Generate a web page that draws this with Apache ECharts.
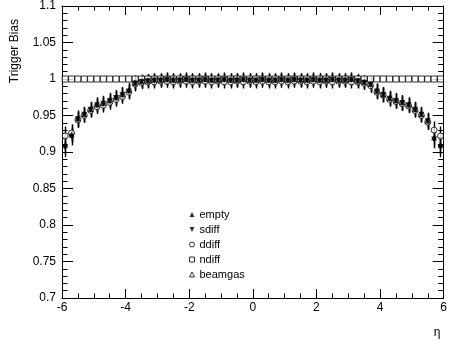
<!DOCTYPE html>
<html>
<head>
<meta charset="utf-8">
<script src="https://cdn.jsdelivr.net/npm/echarts@6/dist/echarts.min.js"></script>
<style>html,body{margin:0;padding:0;background:#fff;}#c{width:450px;height:341px;}</style>
</head>
<body>
<div id="c"></div>
<script>
// eta bin centres
var eta = [-5.9,-5.7,-5.5,-5.3,-5.1,-4.9,-4.7,-4.5,-4.3,-4.1,-3.9,-3.7,-3.5,-3.3,-3.1,-2.9,-2.7,-2.5,-2.3,-2.1,-1.9,-1.7,-1.5,-1.3,-1.1,-0.9,-0.7,-0.5,-0.3,-0.1,
           0.1,0.3,0.5,0.7,0.9,1.1,1.3,1.5,1.7,1.9,2.1,2.3,2.5,2.7,2.9,3.1,3.3,3.5,3.7,3.9,4.1,4.3,4.5,4.7,4.9,5.1,5.3,5.5,5.7,5.9];
var emptyVals = [0.910,0.924,0.946,0.952,0.959,0.965,0.967,0.971,0.975,0.979,0.985,0.995,0.997,0.998,0.999,0.999,1.000,0.999,0.999,1.000,0.999,0.999,1.000,0.999,0.999,1.000,0.999,0.999,1.000,0.999,
                 0.999,1.000,0.999,0.999,1.000,0.999,1.000,0.999,0.999,1.000,0.999,0.999,1.000,0.999,0.999,1.000,0.998,0.996,0.993,0.984,0.979,0.974,0.971,0.968,0.965,0.959,0.952,0.943,0.920,0.910];
var sdiffVals = [0.906,0.921,0.945,0.951,0.958,0.964,0.966,0.970,0.974,0.978,0.983,0.994,0.996,0.997,0.998,0.998,0.999,0.998,0.998,0.999,0.998,0.998,0.999,0.998,0.998,0.999,0.998,0.998,0.999,0.998,
                 0.998,0.999,0.998,0.998,0.999,0.998,0.999,0.998,0.998,0.999,0.998,0.998,0.999,0.998,0.998,0.999,0.997,0.995,0.992,0.983,0.978,0.973,0.970,0.967,0.964,0.958,0.951,0.942,0.917,0.906];
var ddiffVals = [0.922,0.926,0.944,0.950,0.957,0.962,0.964,0.968,0.972,0.976,0.982,0.993,0.995,0.996,0.996,0.997,0.997,0.996,0.997,0.997,0.996,0.997,0.997,0.996,0.997,0.996,0.996,0.997,0.996,0.997,
                 0.996,0.997,0.996,0.996,0.997,0.996,0.997,0.997,0.996,0.997,0.996,0.997,0.996,0.997,0.997,0.996,0.996,0.994,0.991,0.982,0.978,0.972,0.969,0.966,0.963,0.957,0.950,0.941,0.930,0.922];
var ndiffVals = [1,1,1,1,1,1,1,1,1,1,1,1,1,1,1,1,1,1,1,1,1,1,1,1,1,1,1,1,1,1,
                 1,1,1,1,1,1,1,1,1,1,1,1,1,1,1,1,1,1,1,1,1,1,1,1,1,1,1,1,1,1];
var beamgasVals = [];
var errVals = [0.013,0.012,0.011,0.010,0.010,0.010,0.010,0.010,0.010,0.010,0.010,0.010,0.009,0.009,0.009,0.009,0.009,0.009,0.009,0.009,0.009,0.009,0.009,0.009,0.009,0.009,0.009,0.009,0.009,0.009,
               0.009,0.009,0.009,0.009,0.009,0.009,0.009,0.009,0.009,0.009,0.009,0.009,0.009,0.009,0.009,0.009,0.009,0.009,0.010,0.010,0.010,0.010,0.010,0.010,0.010,0.010,0.010,0.011,0.012,0.013];
var xTicks = [-6,-4,-2,0,2,4,6];
var yTicks = [0.7,0.75,0.8,0.85,0.9,0.95,1,1.05,1.1];
var seriesNames = ['empty','sdiff','ddiff','ndiff','beamgas'];

function pts(v){ return v.map(function(y,i){ return [eta[i], y]; }); }
function errPts(v){ return v.map(function(y,i){ return [eta[i], y-errVals[i], y+errVals[i]]; }); }

function errSeries(v){
  return {
    type:'custom', silent:true, z:1,
    data: errPts(v),
    renderItem: function(params, api){
      var lo = api.coord([api.value(0), api.value(1)]);
      var hi = api.coord([api.value(0), api.value(2)]);
      var x = Math.round(lo[0]) + 0.5;
      return {type:'line', shape:{x1:x,y1:lo[1],x2:x,y2:hi[1]}, style:{stroke:'#000', lineWidth:1.4}};
    }
  };
}

var downTri = 'path://M0,0 L10,0 L5,10 Z';
var font = 'Liberation Sans, Arial, Helvetica, sans-serif';
var chart = echarts.init(document.getElementById('c'), null, {renderer:'canvas'});
var axisCommon = {
  min:-6, max:6, interval:2,
  axisLine:{show:true, onZero:false, lineStyle:{color:'#000', width:1}},
  axisTick:{show:true, inside:true, length:9, lineStyle:{color:'#000'}},
  minorTick:{show:true, splitNumber:4, length:4.5, lineStyle:{color:'#000'}},
  splitLine:{show:false}
};
var yCommon = {
  min:0.7, max:1.1, interval:0.05,
  axisLine:{show:true, onZero:false, lineStyle:{color:'#000', width:1}},
  axisTick:{show:true, inside:true, length:11, lineStyle:{color:'#000'}},
  minorTick:{show:true, splitNumber:5, length:5.5, lineStyle:{color:'#000'}},
  splitLine:{show:false}
};
var option = {
  animation:false,
  backgroundColor:'#fff',
  textStyle:{fontFamily:font},
  grid:{left:62, right:1, top:5, bottom:43, containLabel:false},
  xAxis:[
    Object.assign({type:'value', position:'bottom',
      axisLabel:{show:true, color:'#000', fontSize:12, fontFamily:font, margin:4,
        formatter:function(v){ return xTicks.indexOf(v)>=0 ? String(v) : ''; }}}, axisCommon),
    Object.assign({type:'value', position:'top', axisLabel:{show:false}}, axisCommon)
  ],
  yAxis:[
    Object.assign({type:'value', position:'left',
      axisLabel:{show:true, color:'#000', fontSize:12, fontFamily:font, margin:6,
        formatter:function(v){ var r = Math.round(v*100)/100; return yTicks.indexOf(r)>=0 ? String(r) : ''; }}}, yCommon),
    Object.assign({type:'value', position:'right', axisLabel:{show:false}}, yCommon)
  ],
  legend:{
    orient:'vertical', left:189, top:209, padding:0,
    itemWidth:5, itemHeight:5, itemGap:4,
    data:[
      {name:'empty'},
      {name:'sdiff', icon:downTri},
      {name:'ddiff'},
      {name:'ndiff'},
      {name:'beamgas'}
    ],
    itemStyle:{borderWidth:1},
    textStyle:{fontSize:11, color:'#000', fontFamily:font},
    selectedMode:false
  },
  graphic:[
    {type:'text', x:15, y:19, rotation:Math.PI/2,
     style:{text:'Trigger Bias', font:'12px ' + font, fill:'#000', align:'right', verticalAlign:'middle'}},
    {type:'text', x:437, y:333,
     style:{text:'η', font:'12px ' + font, fill:'#000', align:'center', verticalAlign:'middle'}}
  ],
  series:[
    errSeries(emptyVals), errSeries(sdiffVals), errSeries(ddiffVals),
    {name:'ndiff', type:'scatter', data:pts(ndiffVals), symbol:'rect', symbolSize:6, z:2,
     itemStyle:{color:'#fff', borderColor:'#000', borderWidth:1}},
    {name:'ddiff', type:'scatter', data:pts(ddiffVals), symbol:'circle', symbolSize:6, z:3,
     itemStyle:{color:'#fff', borderColor:'#000', borderWidth:1}},
    {name:'sdiff', type:'scatter', data:pts(sdiffVals), symbol:downTri, symbolSize:6, z:4,
     itemStyle:{color:'#000'}},
    {name:'empty', type:'scatter', data:pts(emptyVals), symbol:'triangle', symbolSize:6, z:5,
     itemStyle:{color:'#000'}},
    {name:'beamgas', type:'scatter', data:pts(beamgasVals), symbol:'triangle', symbolSize:6, z:6,
     itemStyle:{color:'#fff', borderColor:'#000', borderWidth:1}}
  ]
};
chart.setOption(option);
</script>
</body>
</html>
